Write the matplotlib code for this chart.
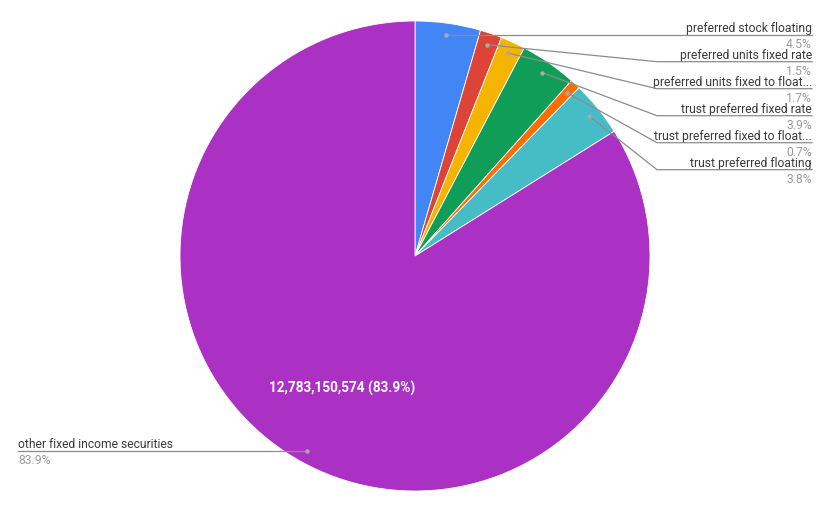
import numpy as np
import matplotlib
matplotlib.use("Agg")
import matplotlib.pyplot as plt

plt.rcParams['font.family'] = ['Roboto', 'DejaVu Sans']

# Slice data (share of total, percent), clockwise from 12 o'clock
labels = [
    "preferred stock floating",
    "preferred units fixed rate",
    "preferred units fixed to float...",
    "trust preferred fixed rate",
    "trust preferred fixed to float...",
    "trust preferred floating",
    "other fixed income securities",
]
shares = [4.5, 1.5, 1.7, 3.9, 0.7, 3.8, 83.9]
big_value = "12,783,150,574"
colors = ["#4285F4", "#DB4437", "#F4B400", "#0F9D58", "#FF6D01", "#46BDC6", "#AB30C4"]

W, H = 831, 510
fig = plt.figure(figsize=(W / 100, H / 100), dpi=100)
ax = fig.add_axes([0, 0, 1, 1])

cx, cy, R = 415, H - 257, 235
wedges, _ = ax.pie(shares, colors=colors, startangle=90, counterclock=False,
                   center=(cx, cy), radius=R, frame=True,
                   wedgeprops=dict(linewidth=0.6, edgecolor="white"))
ax.set_xlim(0, W)
ax.set_ylim(0, H)
ax.set_aspect("equal")
ax.axis("off")

line_col = "#8c8c8c"
name_col = "#3a3a3a"
pct_col = "#9a9a9a"
fs = 8.7

for i, w in enumerate(wedges):
    mid = np.deg2rad((w.theta1 + w.theta2) / 2)
    dx, dy = cx + 0.95 * R * np.cos(mid), cy + 0.95 * R * np.sin(mid)
    ax.plot(dx, dy, "o", ms=2.2, color="#aaaaaa", zorder=5)
    if i < len(wedges) - 1:
        ly = H - (35.7 + 27 * i)
        if i == 0:
            ax.plot([dx, 812], [ly, ly], color=line_col, lw=0.9, zorder=4)
        else:
            ax.plot([dx, 657, 812], [dy, ly, ly], color=line_col, lw=0.9, zorder=4)
        ax.text(812, ly + 4, labels[i], ha="right", va="baseline", fontsize=fs, color=name_col)
        ax.text(812, ly - 2, f"{shares[i]}%", ha="right", va="top", fontsize=fs, color=pct_col)
    else:
        ly = dy
        ax.plot([18, dx], [ly, ly], color=line_col, lw=0.9, zorder=4)
        ax.text(18, ly + 4, labels[i], ha="left", va="baseline", fontsize=fs, color=name_col)
        ax.text(18, ly - 2, f"{shares[i]}%", ha="left", va="top", fontsize=fs, color=pct_col)
        tx, ty = cx + 0.64 * R * np.cos(mid), cy + 0.64 * R * np.sin(mid)
        ax.text(tx, ty, f"{big_value} ({shares[i]}%)", ha="center", va="center",
                fontsize=9.8, fontweight="bold", color="white", zorder=6)

fig.savefig("out.png", dpi=100)
